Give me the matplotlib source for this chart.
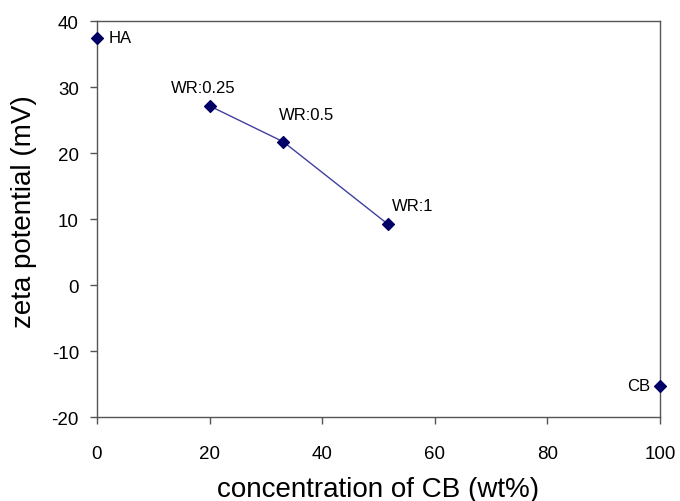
import matplotlib.pyplot as plt

plt.rcParams['font.family'] = ['Liberation Sans', 'DejaVu Sans']
plt.rcParams['axes.unicode_minus'] = False

# points
names = ["HA", "WR:0.25", "WR:0.5", "WR:1", "CB"]
conc = [0, 20.1, 33.1, 51.7, 100]
zeta = [37.5, 27.1, 21.7, 9.2, -15.3]

# label offsets (pixels) and alignment for each point
offsets = [(12, 0, 'left'), (-7, 19, 'center'), (23, 27, 'center'), (25, 19, 'center'), (-10, 0, 'right')]

fig = plt.figure(figsize=(6.8, 5.02), dpi=100)
ax = fig.add_axes([0.1426, 0.1673, 0.8280, 0.7888])

# only the three WR samples are joined by a line
ax.plot(conc[1:4], zeta[1:4], color='#4040a0', lw=1, zorder=2)
ax.scatter(conc, zeta, marker='D', s=36, color='#000066', zorder=3, clip_on=False)

for name, x, y, (dx, dy, ha) in zip(names, conc, zeta, offsets):
    ax.annotate(name, xy=(x, y), xytext=(dx, dy), textcoords='offset pixels',
                ha=ha, va='center', fontsize=12, color='#000000')

ax.set_xlim(0, 100)
ax.set_ylim(-20, 40)
ax.set_xticks(range(0, 101, 20))
ax.set_yticks(range(-20, 41, 10))
ax.tick_params(direction='out', length=5, width=1, color='#555555', labelsize=13.5)
ax.tick_params(axis='x', pad=15)
ax.tick_params(axis='y', pad=8)
for s in ax.spines.values():
    s.set_color('#555555')
    s.set_linewidth(1)

ax.set_xlabel("concentration of CB (wt%)", fontsize=20, labelpad=10)
ax.set_ylabel("zeta potential (mV)", fontsize=20, va='center')
ax.yaxis.set_label_coords(-0.13, 0.52)

fig.savefig("out.png", dpi=100)
